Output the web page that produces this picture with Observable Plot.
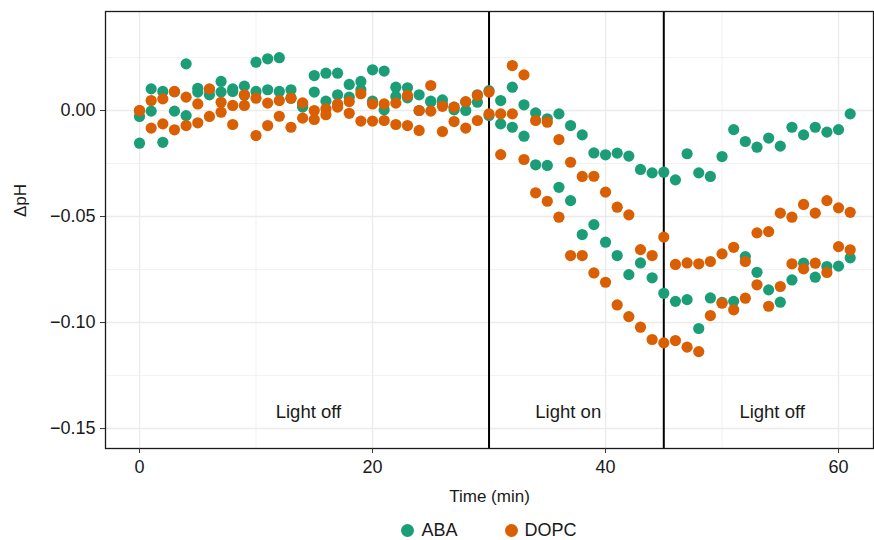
<!DOCTYPE html>
<html>
<head>
<meta charset="utf-8">
<script src="https://cdn.jsdelivr.net/npm/d3@7"></script>
<script src="https://cdn.jsdelivr.net/npm/@observablehq/plot@0.6"></script>
<style>
  body { margin: 0; background: white; font-family: "Liberation Sans", Arial, sans-serif; overflow: hidden; }
  #chart svg { display: block; }
  #legend { display: flex; justify-content: center; align-items: center; margin-left: 105px; width: 768px; height: 20px; font-size: 18px; line-height: 18px; color: #1a1a1a; gap: 47px; }
  #legend .item { display: flex; align-items: center; gap: 7px; line-height: 18px; }
  #legend .sw { width: 13px; height: 13px; border-radius: 50%; display: inline-block; }
</style>
</head>
<body>
<div id="chart"></div>
<div id="legend"></div>
<script>
const time = [0,1,2,3,4,5,6,7,8,9,10,11,12,13,14,15,16,17,18,19,20,21,22,23,24,25,26,27,28,29,30,31,32,33,34,35,36,37,38,39,40,41,42,43,44,45,46,47,48,49,50,51,52,53,54,55,56,57,58,59,60,61];
const abaRep1 = [-0.0028,0.0102,0.009,-0.0003,0.022,0.0105,0.0074,0.0137,0.0102,0.0115,0.0228,0.0244,0.0249,0.0098,0.0016,0.0165,0.0176,0.0176,0.0123,0.0137,0.0192,0.0186,0.011,0.0107,0.0074,0.0044,0.005,0.0003,0.0,0.0074,0.0094,0.0047,0.011,0.0027,-0.0011,-0.0039,-0.0016,-0.0071,-0.0115,-0.02,-0.0209,-0.0201,-0.0215,-0.0278,-0.0294,-0.0291,-0.0327,-0.0204,-0.0294,-0.0311,-0.0217,-0.009,-0.0146,-0.0173,-0.013,-0.0168,-0.0079,-0.0115,-0.0079,-0.0102,-0.009,-0.0016];
const abaRep2 = [-0.0154,-0.0003,-0.015,0.0088,-0.0024,0.0087,0.0098,0.0087,0.009,0.0072,0.009,0.0098,0.009,0.0058,0.003,0.0087,0.0044,0.0074,0.0063,0.0098,0.0044,0.0003,0.0066,0.006,0.0,0.004,0.003,0.0016,0.004,0.0039,-0.0024,-0.0063,-0.0079,-0.0121,-0.0256,-0.0259,-0.0362,-0.0425,-0.0585,-0.0538,-0.0621,-0.0684,-0.0774,-0.0719,-0.0789,-0.0862,-0.09,-0.0892,-0.1028,-0.0884,-0.0905,-0.09,-0.0689,-0.0763,-0.0846,-0.0904,-0.0799,-0.072,-0.0786,-0.0736,-0.0734,-0.0695];
const dopcRep1 = [0.0,0.0047,0.0055,0.009,0.0063,0.0031,0.0102,0.0039,0.0024,0.0074,0.0058,0.0035,0.0047,0.0058,0.0036,0.0,0.0008,0.0031,0.0042,0.0079,0.0031,0.0031,0.0035,0.0071,0.0,0.0118,0.002,0.0016,0.0042,0.0071,0.0087,-0.0016,0.0212,0.0168,-0.0047,-0.0055,-0.0137,-0.0244,-0.0311,-0.031,-0.0385,-0.0456,-0.0492,-0.0656,-0.0684,-0.0597,-0.0726,-0.0719,-0.0723,-0.0712,-0.0676,-0.0645,-0.0712,-0.0577,-0.0571,-0.0484,-0.0503,-0.0443,-0.0484,-0.0425,-0.0459,-0.048];
const dopcRep2 = [0.0,-0.0083,-0.0063,-0.0091,-0.0071,-0.0058,-0.0028,-0.0008,-0.0066,0.0024,-0.0118,-0.0071,-0.0027,-0.0079,-0.0036,-0.0042,-0.002,0.0016,-0.0013,-0.005,-0.005,-0.0047,-0.0066,-0.0071,-0.0094,-0.0003,-0.0099,-0.0052,-0.0083,-0.0047,-0.0016,-0.0208,-0.0016,-0.0231,-0.0388,-0.0428,-0.0503,-0.0684,-0.0684,-0.0766,-0.081,-0.0917,-0.0972,-0.1022,-0.108,-0.1096,-0.1085,-0.1116,-0.1137,-0.0967,-0.0909,-0.094,-0.0885,-0.0822,-0.0923,-0.083,-0.0723,-0.0747,-0.072,-0.0764,-0.0642,-0.0657];
const groups = ["ABA", "DOPC"];
const groupColors = ["#1b9e77", "#d95f02"];
const xTicks = [0, 20, 40, 60];
const xMinor = [10, 30, 50];
const yTicks = [0, -0.05, -0.10, -0.15];
const yMinor = [0.025, -0.025, -0.075, -0.125];
const lightSwitches = [30, 45];
const phaseLabels = ["Light off", "Light on", "Light off"];
const phaseX = [14.5, 36.8, 54.3];
const phaseY = [-0.142, -0.142, -0.142];

const data = [];
[[groups[0], abaRep1], [groups[0], abaRep2], [groups[1], dopcRep1], [groups[1], dopcRep2]].forEach(([g, arr]) => {
  arr.forEach((v, i) => data.push({time: time[i], dph: v, group: g}));
});
const phases = phaseLabels.map((l, i) => ({label: l, x: phaseX[i], y: phaseY[i]}));

const chart = Plot.plot({
  width: 874,
  height: 520,
  marginLeft: 105,
  marginRight: 1,
  marginTop: 11,
  marginBottom: 72,
  style: {fontFamily: "'Liberation Sans', Arial, sans-serif", fontSize: "18px", color: "#1a1a1a", background: "white"},
  x: {domain: [-2.92, 63.0]},
  y: {domain: [-0.1594, 0.0467]},
  color: {domain: groups, range: groupColors},
  marks: [
    Plot.gridX(xMinor, {stroke: "#ececec", strokeWidth: 0.7, strokeOpacity: 1}),
    Plot.gridY(yMinor, {stroke: "#ececec", strokeWidth: 0.7, strokeOpacity: 1}),
    Plot.gridX(xTicks, {stroke: "#ebebeb", strokeWidth: 1.4, strokeOpacity: 1}),
    Plot.gridY(yTicks, {stroke: "#ebebeb", strokeWidth: 1.4, strokeOpacity: 1}),
    Plot.ruleX(lightSwitches, {stroke: "black", strokeWidth: 2}),
    Plot.dot(data, {x: "time", y: "dph", fill: "group", r: 5.6}),
    Plot.text(phases, {x: "x", y: "y", text: "label", fontSize: 18.5, fill: "#1a1a1a"}),
    Plot.frame({stroke: "#1a1a1a", strokeWidth: 1.3}),
    Plot.axisX(xTicks, {tickSize: 5, tickPadding: 7, label: null, stroke: "#333", fontSize: 18}),
    Plot.axisY(yTicks, {tickSize: 5, tickPadding: 5, label: null, stroke: "#333", fontSize: 18, tickFormat: d3.format(".2f")}),
    Plot.text(["Time (min)"], {frameAnchor: "bottom", dy: 53, text: d => d, fontSize: 17}),
    Plot.text(["ΔpH"], {frameAnchor: "left", dx: -85, dy: -13, rotate: -90, text: d => d, fontSize: 17})
  ]
});
document.getElementById("chart").appendChild(chart);

const legend = document.getElementById("legend");
groups.forEach((g, i) => {
  const item = document.createElement("span");
  item.className = "item";
  const sw = document.createElement("span");
  sw.className = "sw";
  sw.style.background = groupColors[i];
  const t = document.createElement("span");
  t.textContent = g;
  item.appendChild(sw);
  item.appendChild(t);
  legend.appendChild(item);
});
</script>
</body>
</html>
